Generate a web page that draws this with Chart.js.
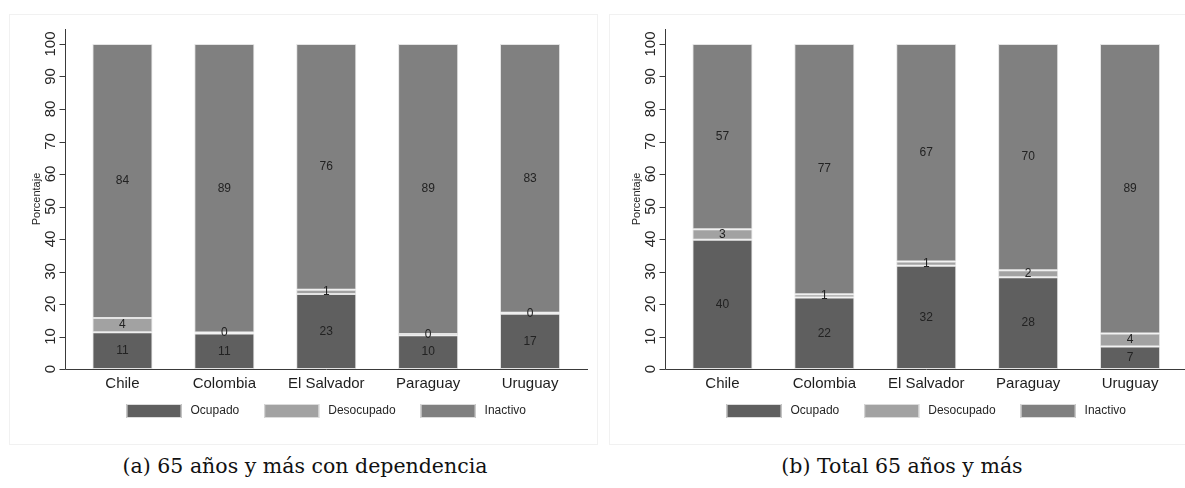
<!DOCTYPE html>
<html>
<head>
<meta charset="utf-8">
<script src="https://cdn.jsdelivr.net/npm/chart.js@4.4.1/dist/chart.umd.min.js"></script>
<style>
  html, body { margin: 0; padding: 0; background: #fff; width: 1185px; height: 488px; overflow: hidden; }
  .frame { position: absolute; top: 14px; width: 589px; height: 431px; box-sizing: border-box; border: 1px solid #f1f1f1; }
  canvas { position: absolute; top: 14px; }
  .cap { position: absolute; top: 452px; font-family: "DejaVu Serif", "Liberation Serif", serif; font-size: 20.5px; color: #111; white-space: nowrap; transform: translateX(-50%); line-height: 28px; }
</style>
</head>
<body>
<div class="frame" style="left:9px"></div>
<div class="frame" style="left:609px"></div>
<canvas id="chartA" width="589" height="431" style="left:9px"></canvas>
<canvas id="chartB" width="589" height="431" style="left:609px"></canvas>
<div class="cap" id="capA" style="left:305px"></div>
<div class="cap" id="capB" style="left:902px"></div>

<script>
// Countries and series
const categories = ['Chile', 'Colombia', 'El Salvador', 'Paraguay', 'Uruguay'];
const seriesNames = ['Ocupado', 'Desocupado', 'Inactivo'];
const yTicks = [0, 10, 20, 30, 40, 50, 60, 70, 80, 90, 100];
const yTitle = 'Porcentaje';

// (a) 65 años y más con dependencia — percentages per country
const ocupadoA    = [11.3, 10.9, 23.1, 10.4, 17.0];
const desocupadoA = [ 4.4,  0.3,  1.3,  0.4,  0.3];
const inactivoA   = [84.3, 88.8, 75.6, 89.2, 82.7];

// (b) Total 65 años y más — percentages per country
const ocupadoB    = [39.8, 22.0, 31.8, 28.2,  6.9];
const desocupadoB = [ 3.2,  1.0,  1.3,  2.2,  4.0];
const inactivoB   = [57.0, 77.0, 66.9, 69.6, 89.1];

const captionA = '(a) 65 años y más con dependencia';
const captionB = '(b) Total 65 años y más';

const seriesColors = ['#5f5f5f', '#a2a2a2', '#808080'];
const SANS = "'Liberation Sans', Arial, sans-serif";
const INK = '#262626';

Chart.defaults.font.family = SANS;
Chart.defaults.color = INK;

// Y axis, x axis line, tick marks, rotated tick labels and the axis title
const stataAxes = {
  id: 'stataAxes',
  afterDatasetsDraw(chart) {
    const { ctx, chartArea, scales: { y } } = chart;
    const ax = Math.round(chartArea.left - 6.5) + 0.5;
    const y0 = y.getPixelForValue(0);
    const yTop = chartArea.top - 15;
    ctx.save();
    ctx.strokeStyle = '#3a3a3a';
    ctx.lineWidth = 1;
    ctx.beginPath();
    ctx.moveTo(ax, yTop);
    ctx.lineTo(ax, Math.round(y0) + 0.5);
    ctx.lineTo(chartArea.right + 7, Math.round(y0) + 0.5);
    yTicks.forEach(t => {
      const py = Math.round(y.getPixelForValue(t)) + 0.5;
      ctx.moveTo(ax - 6, py);
      ctx.lineTo(ax, py);
    });
    ctx.stroke();

    ctx.fillStyle = INK;
    ctx.textAlign = 'center';
    ctx.textBaseline = 'middle';
    ctx.font = '15px ' + SANS;
    yTicks.forEach(t => {
      ctx.save();
      ctx.translate(ax - 15, y.getPixelForValue(t));
      ctx.rotate(-Math.PI / 2);
      ctx.fillText(String(t), 0, 0);
      ctx.restore();
    });
    ctx.font = '11px ' + SANS;
    ctx.save();
    ctx.translate(ax - 29, (yTop + y0) / 2);
    ctx.rotate(-Math.PI / 2);
    ctx.fillText(yTitle, 0, 0);
    ctx.restore();
    ctx.restore();
  }
};

// Value written in the middle of each stacked segment
const segmentLabels = {
  id: 'segmentLabels',
  afterDatasetsDraw(chart) {
    const ctx = chart.ctx;
    ctx.save();
    ctx.font = '12px ' + SANS;
    ctx.fillStyle = '#222';
    ctx.textAlign = 'center';
    ctx.textBaseline = 'middle';
    chart.data.datasets.forEach((ds, di) => {
      chart.getDatasetMeta(di).data.forEach((bar, i) => {
        ctx.fillText(String(Math.round(ds.data[i])), bar.x, (bar.y + bar.base) / 2);
      });
    });
    ctx.restore();
  }
};

// Legend row under the x labels, centred on the plot area
const legendRow = {
  id: 'legendRow',
  afterDraw(chart) {
    const { ctx, chartArea } = chart;
    const boxW = 55, boxH = 14, textGap = 9, itemGap = 25;
    const cy = 397;
    ctx.save();
    ctx.font = '12px ' + SANS;
    const items = chart.data.datasets.map(ds => ({
      text: ds.label, color: ds.backgroundColor, w: ctx.measureText(ds.label).width
    }));
    const total = items.reduce((s, it) => s + boxW + textGap + it.w, 0) + itemGap * (items.length - 1);
    let x = (chartArea.left + chartArea.right) / 2 - total / 2;
    items.forEach(it => {
      ctx.fillStyle = it.color;
      ctx.fillRect(x, cy - boxH / 2, boxW, boxH);
      ctx.strokeStyle = '#dcdcdc';
      ctx.lineWidth = 1;
      ctx.strokeRect(x + 0.5, cy - boxH / 2 + 0.5, boxW - 1, boxH - 1);
      ctx.fillStyle = INK;
      ctx.textAlign = 'left';
      ctx.textBaseline = 'middle';
      ctx.fillText(it.text, x + boxW + textGap, cy);
      x += boxW + textGap + it.w + itemGap;
    });
    ctx.restore();
  }
};

function makeChart(id, series) {
  return new Chart(document.getElementById(id), {
    type: 'bar',
    data: {
      labels: categories,
      datasets: series.map((vals, k) => ({
        label: seriesNames[k],
        data: vals,
        backgroundColor: seriesColors[k],
        borderColor: '#e4e4e4',
        borderWidth: 1,
        borderSkipped: false,
        categoryPercentage: 1,
        barPercentage: 0.59
      }))
    },
    options: {
      responsive: false,
      animation: false,
      events: [],
      layout: { padding: { left: 62.5, right: 17, top: 30, bottom: 46 } },
      plugins: { legend: { display: false }, tooltip: { enabled: false } },
      scales: {
        x: {
          stacked: true,
          grid: { display: false, drawTicks: false },
          border: { display: false },
          ticks: { font: { size: 15 }, color: '#1e1e1e', padding: 6 }
        },
        y: {
          stacked: true,
          display: false,
          min: 0,
          max: 100
        }
      }
    },
    plugins: [stataAxes, segmentLabels, legendRow]
  });
}

makeChart('chartA', [ocupadoA, desocupadoA, inactivoA]);
makeChart('chartB', [ocupadoB, desocupadoB, inactivoB]);
document.getElementById('capA').textContent = captionA;
document.getElementById('capB').textContent = captionB;
</script>
</body>
</html>
